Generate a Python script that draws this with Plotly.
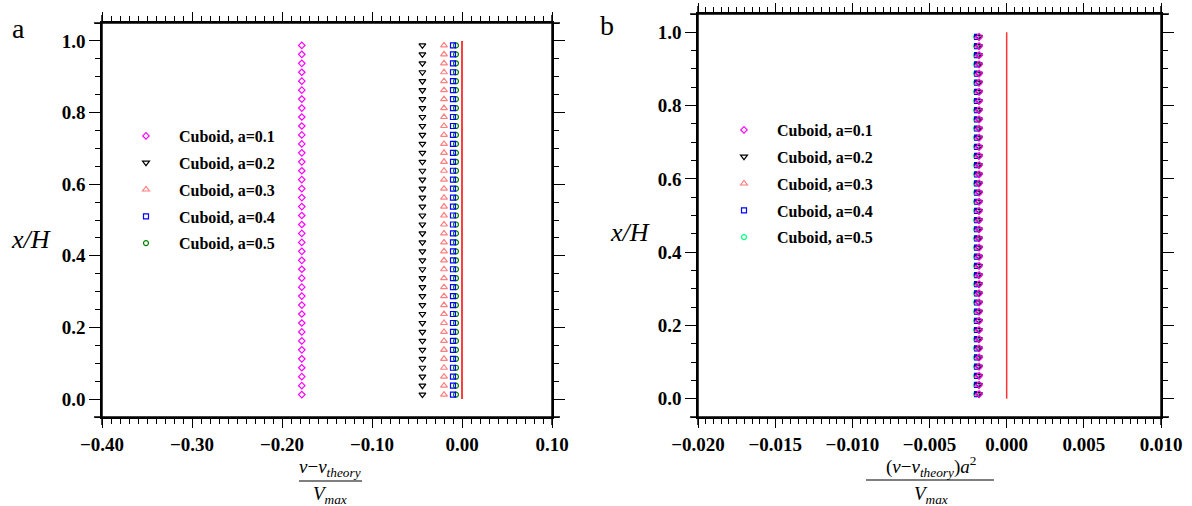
import plotly.graph_objects as go

# ---------------- data ----------------
labels = ["Cuboid, a=0.1", "Cuboid, a=0.2", "Cuboid, a=0.3", "Cuboid, a=0.4", "Cuboid, a=0.5"]
x_over_H = [0.0125, 0.0375, 0.0625, 0.0875, 0.1125, 0.1375, 0.1625, 0.1875, 0.2125, 0.2375,
            0.2625, 0.2875, 0.3125, 0.3375, 0.3625, 0.3875, 0.4125, 0.4375, 0.4625, 0.4875,
            0.5125, 0.5375, 0.5625, 0.5875, 0.6125, 0.6375, 0.6625, 0.6875, 0.7125, 0.7375,
            0.7625, 0.7875, 0.8125, 0.8375, 0.8625, 0.8875, 0.9125, 0.9375, 0.9625, 0.9875]
# panel a: (v - v_theory)/Vmax for each cuboid size (constant along x/H)
dev_a = [-0.178, -0.044, -0.020, -0.010, -0.0067]
# panel b: (v - v_theory) a^2 / Vmax
dev_b = [-0.00178, -0.00180, -0.00185, -0.00192, -0.00198]
theory_x = [0.0, 0.0]
theory_y = [0.0, 1.0]

symbols = ["diamond-open", "triangle-down-open", "triangle-up-open", "square-open", "circle-open"]
colors_a = ["#ff00ff", "#000000", "#ff7f7f", "#0000ff", "#008000"]
colors_b = ["#ff00ff", "#000000", "#ff7f7f", "#0000ff", "#00ff80"]
sizes = [5, 6, 6, 5, 5]

W, H = 1192, 506
SERIF = "Liberation Serif"

fig = go.Figure()

# draw order: a=0.5 first so a=0.1 ends on top
for i in reversed(range(5)):
    fig.add_trace(go.Scatter(
        x=[dev_a[i]] * len(x_over_H), y=x_over_H, mode="markers", name=labels[i],
        marker=dict(symbol=symbols[i], color=colors_a[i], size=sizes[i], line=dict(width=1.2, color=colors_a[i])),
        xaxis="x", yaxis="y", legend="legend", legendrank=i + 1, legendgroup="a%d" % i))
fig.add_trace(go.Scatter(x=theory_x, y=theory_y, mode="lines", line=dict(color="#ff0000", width=1.5),
                         showlegend=False, xaxis="x", yaxis="y"))

for i in reversed(range(5)):
    fig.add_trace(go.Scatter(
        x=[dev_b[i]] * len(x_over_H), y=x_over_H, mode="markers", name=labels[i],
        marker=dict(symbol=symbols[i], color=colors_b[i], size=sizes[i], line=dict(width=1.2, color=colors_b[i])),
        xaxis="x2", yaxis="y2", legend="legend2", legendrank=i + 1, legendgroup="b%d" % i))
fig.add_trace(go.Scatter(x=theory_x, y=theory_y, mode="lines", line=dict(color="#ff3333", width=1.5),
                         showlegend=False, xaxis="x2", yaxis="y2"))


def px_x(p):
    return p / W


def px_y(p):
    return 1 - p / H


tickfont = dict(family=SERIF, size=19, color="black", weight="bold")


def xaxis_cfg(domain, rng, dtick, minor_dtick, fmt, anchor):
    return dict(domain=domain, range=rng, anchor=anchor, showgrid=False, zeroline=False, automargin=False,
                showline=True, linecolor="black", linewidth=1.5, mirror="ticks",
                ticks="outside", ticklen=9, tickwidth=1.2, tickcolor="black",
                dtick=dtick, tick0=0, tickformat=fmt, tickfont=tickfont,
                minor=dict(ticks="outside", dtick=minor_dtick, tick0=0, ticklen=5,
                           tickwidth=1, tickcolor="black", showgrid=False))


def yaxis_cfg(domain, anchor):
    return dict(domain=domain, range=[-0.05, 1.05], anchor=anchor, showgrid=False, zeroline=False,
                automargin=False,
                showline=True, linecolor="black", linewidth=1.5, mirror="ticks",
                ticks="outside", ticklen=11, tickwidth=1.2, tickcolor="black",
                dtick=0.2, tick0=0, tickformat=".1f", tickfont=tickfont,
                minor=dict(ticks="outside", dtick=0.05, tick0=0, ticklen=5,
                           tickwidth=1, tickcolor="black", showgrid=False))


xa_dom = [px_x(102), px_x(552)]
ya_dom = [px_y(417), px_y(23)]
xb_dom = [px_x(698), px_x(1161)]
yb_dom = [px_y(417), px_y(14)]

legfont = dict(family=SERIF, size=16, color="black", weight="bold")

fig.update_layout(
    width=W, height=H, margin=dict(l=0, r=0, t=0, b=0, autoexpand=False),
    paper_bgcolor="white", plot_bgcolor="white",
    xaxis=xaxis_cfg(xa_dom, [-0.4, 0.1], 0.1, 0.01, ".2f", "y"),
    yaxis=yaxis_cfg(ya_dom, "x"),
    xaxis2=xaxis_cfg(xb_dom, [-0.02, 0.01], 0.005, 0.0005, ".3f", "y2"),
    yaxis2=yaxis_cfg(yb_dom, "x2"),
    legend=dict(x=px_x(113), y=px_y(119), xanchor="left", yanchor="top", bgcolor="rgba(0,0,0,0)",
                font=legfont, itemwidth=56, tracegroupgap=3, itemsizing="trace"),
    legend2=dict(x=px_x(711), y=px_y(113), xanchor="left", yanchor="top", bgcolor="rgba(0,0,0,0)",
                 font=legfont, itemwidth=56, tracegroupgap=3, itemsizing="trace"),
    showlegend=True,
)


def note(text, x, y, size):
    return dict(text=text, x=px_x(x), y=px_y(y), xref="paper", yref="paper", showarrow=False,
                xanchor="center", yanchor="middle",
                font=dict(family=SERIF, size=size, color="black"))


ann = [
    note("a", 18, 28, 28),
    note("b", 607, 25, 28),
    note("<i>x/H</i>", 31, 240, 26),
    note("<i>x/H</i>", 630, 232, 26),
    note("<i>v</i>\u2212<i>v</i><sub><i>theory</i></sub>", 330, 468, 19),
    note("<i>V</i><sub><i>max</i></sub>", 330, 495, 19),
    note("(<i>v</i>\u2212<i>v</i><sub><i>theory</i></sub>)<i>a</i><sup>2</sup>", 931, 466, 19),
    note("<i>V</i><sub><i>max</i></sub>", 931, 495, 19),
]
fig.update_layout(annotations=ann)

shapes = [
    dict(type="line", xref="paper", yref="paper", x0=px_x(299), x1=px_x(362), y0=px_y(481), y1=px_y(481),
         line=dict(color="black", width=1.2)),
    dict(type="line", xref="paper", yref="paper", x0=px_x(866), x1=px_x(994), y0=px_y(480), y1=px_y(480),
         line=dict(color="black", width=1.2)),
]
# slightly extended frame lines (crossing corners)
for xd, yd in [("x domain", "y domain"), ("x2 domain", "y2 domain")]:
    ex = 8 / 450 if xd == "x domain" else 8 / 463
    ey = 8 / 394 if yd == "y domain" else 8 / 403
    for yy in (0, 1):
        shapes.append(dict(type="line", xref=xd, yref=yd, x0=-ex, x1=1 + ex, y0=yy, y1=yy,
                           line=dict(color="black", width=1.5)))
    for xx in (0, 1):
        shapes.append(dict(type="line", xref=xd, yref=yd, x0=xx, x1=xx, y0=-ey, y1=1 + ey,
                           line=dict(color="black", width=1.5)))
fig.update_layout(shapes=shapes)

fig.write_html("out.html")
